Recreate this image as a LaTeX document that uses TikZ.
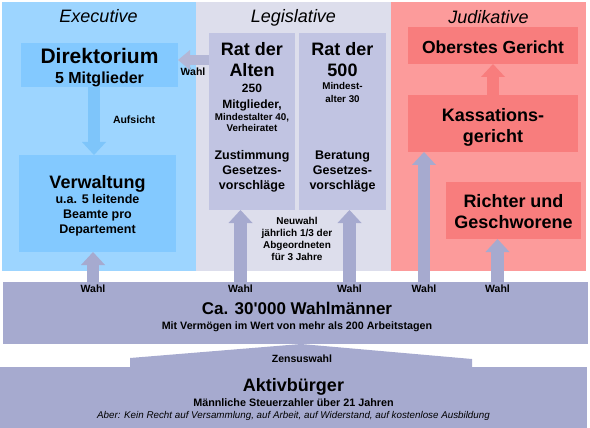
\documentclass[tikz,border=0pt]{standalone}
\usepackage{fontspec}
\setmainfont{Liberation Sans}
\usepackage{tikz}
\usetikzlibrary{arrows.meta,calc}
\usetikzlibrary{positioning}

\definecolor{exebg}{RGB}{157,213,255}
\definecolor{exebox}{RGB}{131,201,255}
\definecolor{aufcol}{RGB}{126,197,250}
\definecolor{legbg}{RGB}{221,222,236}
\definecolor{legbox}{RGB}{193,196,226}
\definecolor{judbg}{RGB}{252,155,155}
\definecolor{judbox}{RGB}{248,125,125}
\definecolor{wahlcol}{RGB}{166,170,207}
\definecolor{wahlhell}{RGB}{180,183,214}

\newcommand\zeilenfest{\lineskiplimit=-100pt}
\newcommand\gross{\fontsize{18}{0}\selectfont}
\newcommand\winzig{\fontsize{9.8}{0}\selectfont}

\begin{document}
\begin{tikzpicture}[%
x={(1pt,0pt)},
y={(0pt,-1pt)},
box/.style={inner sep=0pt, outer sep=0pt},
txt/.style={inner sep=0pt, align=center, font=\bfseries\fontsize{#1}{0}\selectfont\zeilenfest},
txt/.default=12.5,
titel/.style={anchor=base, inner sep=0pt, font=\itshape\fontsize{18}{20}\selectfont},
klein/.style={inner sep=1pt, font=\bfseries\fontsize{10.5}{12}\selectfont},
pfeil/.style={line width=12.5pt, -{Triangle[width=24pt,length=13pt,line width=0pt]}},
]

\useasboundingbox (0,0) rectangle (590,428);

%Bereiche
\node[box, fill=exebg, minimum width=194pt, minimum height=269pt] (exe) at (99,136.5) {};
\node[box, fill=legbg, minimum width=195pt, minimum height=269pt] (leg) at (293.5,136.5) {};
\node[box, fill=judbg, minimum width=195pt, minimum height=269pt] (jud) at (488.5,136.5) {};
\node[titel] (exetitel) at (98.5,22.4) {Executive};
\node[titel] (legtitel) at (293.5,22.4) {Legislative};
\node[titel] (judtitel) at (488.5,23.4) {Judikative};

%Kaesten
\node[box, fill=exebox, minimum width=157pt, minimum height=44pt] (dir) at (99.5,65) {};
\node[txt, below= 5.5pt of dir.north] (dirtext) {{\fontsize{21}{0}\selectfont Direktorium}\\[20pt]{\fontsize{16}{0}\selectfont 5 Mitglieder}};

\node[box, fill=exebox, minimum width=157pt, minimum height=97pt] (verw) at (97.5,203.5) {};
\node[txt, below= 20.6pt of verw.north] (verwtext) {{\gross Verwaltung}\\[15pt]u.a. 5 leitende\\[15pt]Beamte pro\\[15pt]Departement};

\node[box, fill=legbox, minimum width=86pt, minimum height=177pt] (alten) at (252,121.5) {};
\node[txt, below= 9.6pt of alten.north] (altentext) {{\gross Rat der}\\[21pt]{\gross Alten}\\[16pt]{\fontsize{12}{0}\selectfont 250}\\[16pt]{\fontsize{12}{0}\selectfont Mitglieder,}\\[12pt]{\winzig Mindestalter 40,}\\[11pt]{\winzig Verheiratet}\\[28pt]Zustimmung\\[15pt]Gesetzes-\\[15pt]vorschläge};

\node[box, fill=legbox, minimum width=87pt, minimum height=177pt] (fuenf) at (342.5,121.5) {};
\node[txt, below= 9.6pt of fuenf.north] (fuenftext) {{\gross Rat der}\\[21pt]{\gross 500}\\[13pt]{\winzig Mindest-}\\[13pt]{\winzig alter 30}\\[57pt]Beratung\\[15pt]Gesetzes-\\[15pt]vorschläge};

\node[box, fill=judbox, minimum width=170pt, minimum height=37pt] (ober) at (493,45.5) {};
\node[txt=17.5, below= 13.7pt of ober.north] (obertext) {Oberstes Gericht};

\node[box, fill=judbox, minimum width=170pt, minimum height=57pt] (kas) at (493,123.5) {};
\node[txt=18, below= 13.6pt of kas.north] (kastext) {Kassations-\\[21pt]gericht};

\node[box, fill=judbox, minimum width=135pt, minimum height=57pt] (richter) at (513.5,210.5) {};
\node[txt=18, below= 12.6pt of richter.north] (richtertext) {Richter und\\[21pt]Geschworene};

\node[box, fill=wahlcol, minimum width=585pt, minimum height=62pt] (wm) at (295.5,313) {};
\node[txt=10.7, below= 19.9pt of wm.north, xshift=1.5pt] (wmtext) {{\fontsize{17}{0}\selectfont Ca. 30{\addfontfeatures{Ligatures=TeXOff}'}000 Wahlmänner}\\[14.7pt]Mit Vermögen im Wert von mehr als 200 Arbeitstagen};

\node[box, fill=wahlcol, minimum width=587pt, minimum height=61pt] (aktiv) at (293.5,397.5) {};
\fill[wahlcol] (130,368) -- (130,358) -- (301,344) -- (472,359) -- (472,368) -- cycle;
\node[txt=10.8, below= 11.6pt of aktiv.north] (aktivtext) {{\gross Aktivbürger}\\[14.5pt]Männliche Steuerzahler über 21 Jahren\\[12.5pt]{\mdseries\itshape\fontsize{9.8}{0}\selectfont Aber: Kein Recht auf Versammlung, auf Arbeit, auf Widerstand, auf kostenlose Ausbildung}};

%Beschriftung
\node[klein] (zensus) at (302,359) {Zensuswahl};
\node[klein] (aufsicht) at (134,120) {Aufsicht};
\node[klein] (wahldir) at (193,72) {Wahl};
\node[txt=10, anchor=north] (neuwahl) at (297,217.4) {Neuwahl\\[12pt]jährlich 1/3 der\\[12pt]Abgeordneten\\[12pt]für 3 Jahre};
\node[klein] (w1) at (93,289) {Wahl};
\node[klein] (w2) at (240.5,289) {Wahl};
\node[klein] (w3) at (349.5,289) {Wahl};
\node[klein] (w4) at (424,289) {Wahl};
\node[klein] (w5) at (497.5,289) {Wahl};

%Pfeile
\draw[pfeil, wahlcol] (w1.north) -- (w1.north |- verw.south);
\draw[pfeil, wahlcol] (w2.north) -- (w2.north |- alten.south);
\draw[pfeil, wahlcol] (w3.north) -- (w3.north |- fuenf.south);
\draw[pfeil, wahlcol] (w4.north) -- (w4.north |- kas.south);
\draw[pfeil, wahlcol] (w5.north) -- (w5.north |- richter.south);
\draw[pfeil, aufcol] ([xshift=-5.5pt]dir.south) -- ([xshift=-3.5pt]verw.north);
\draw[pfeil, judbox] (kas.north) -- (ober.south);
\draw[wahlhell, line width=10pt, -{Triangle[width=20pt,length=12pt,line width=0pt]}] ($(alten.west |- dir.east)+(0,-5)$) -- ($(dir.east)+(0,-5)$);

\end{tikzpicture}
\end{document}
